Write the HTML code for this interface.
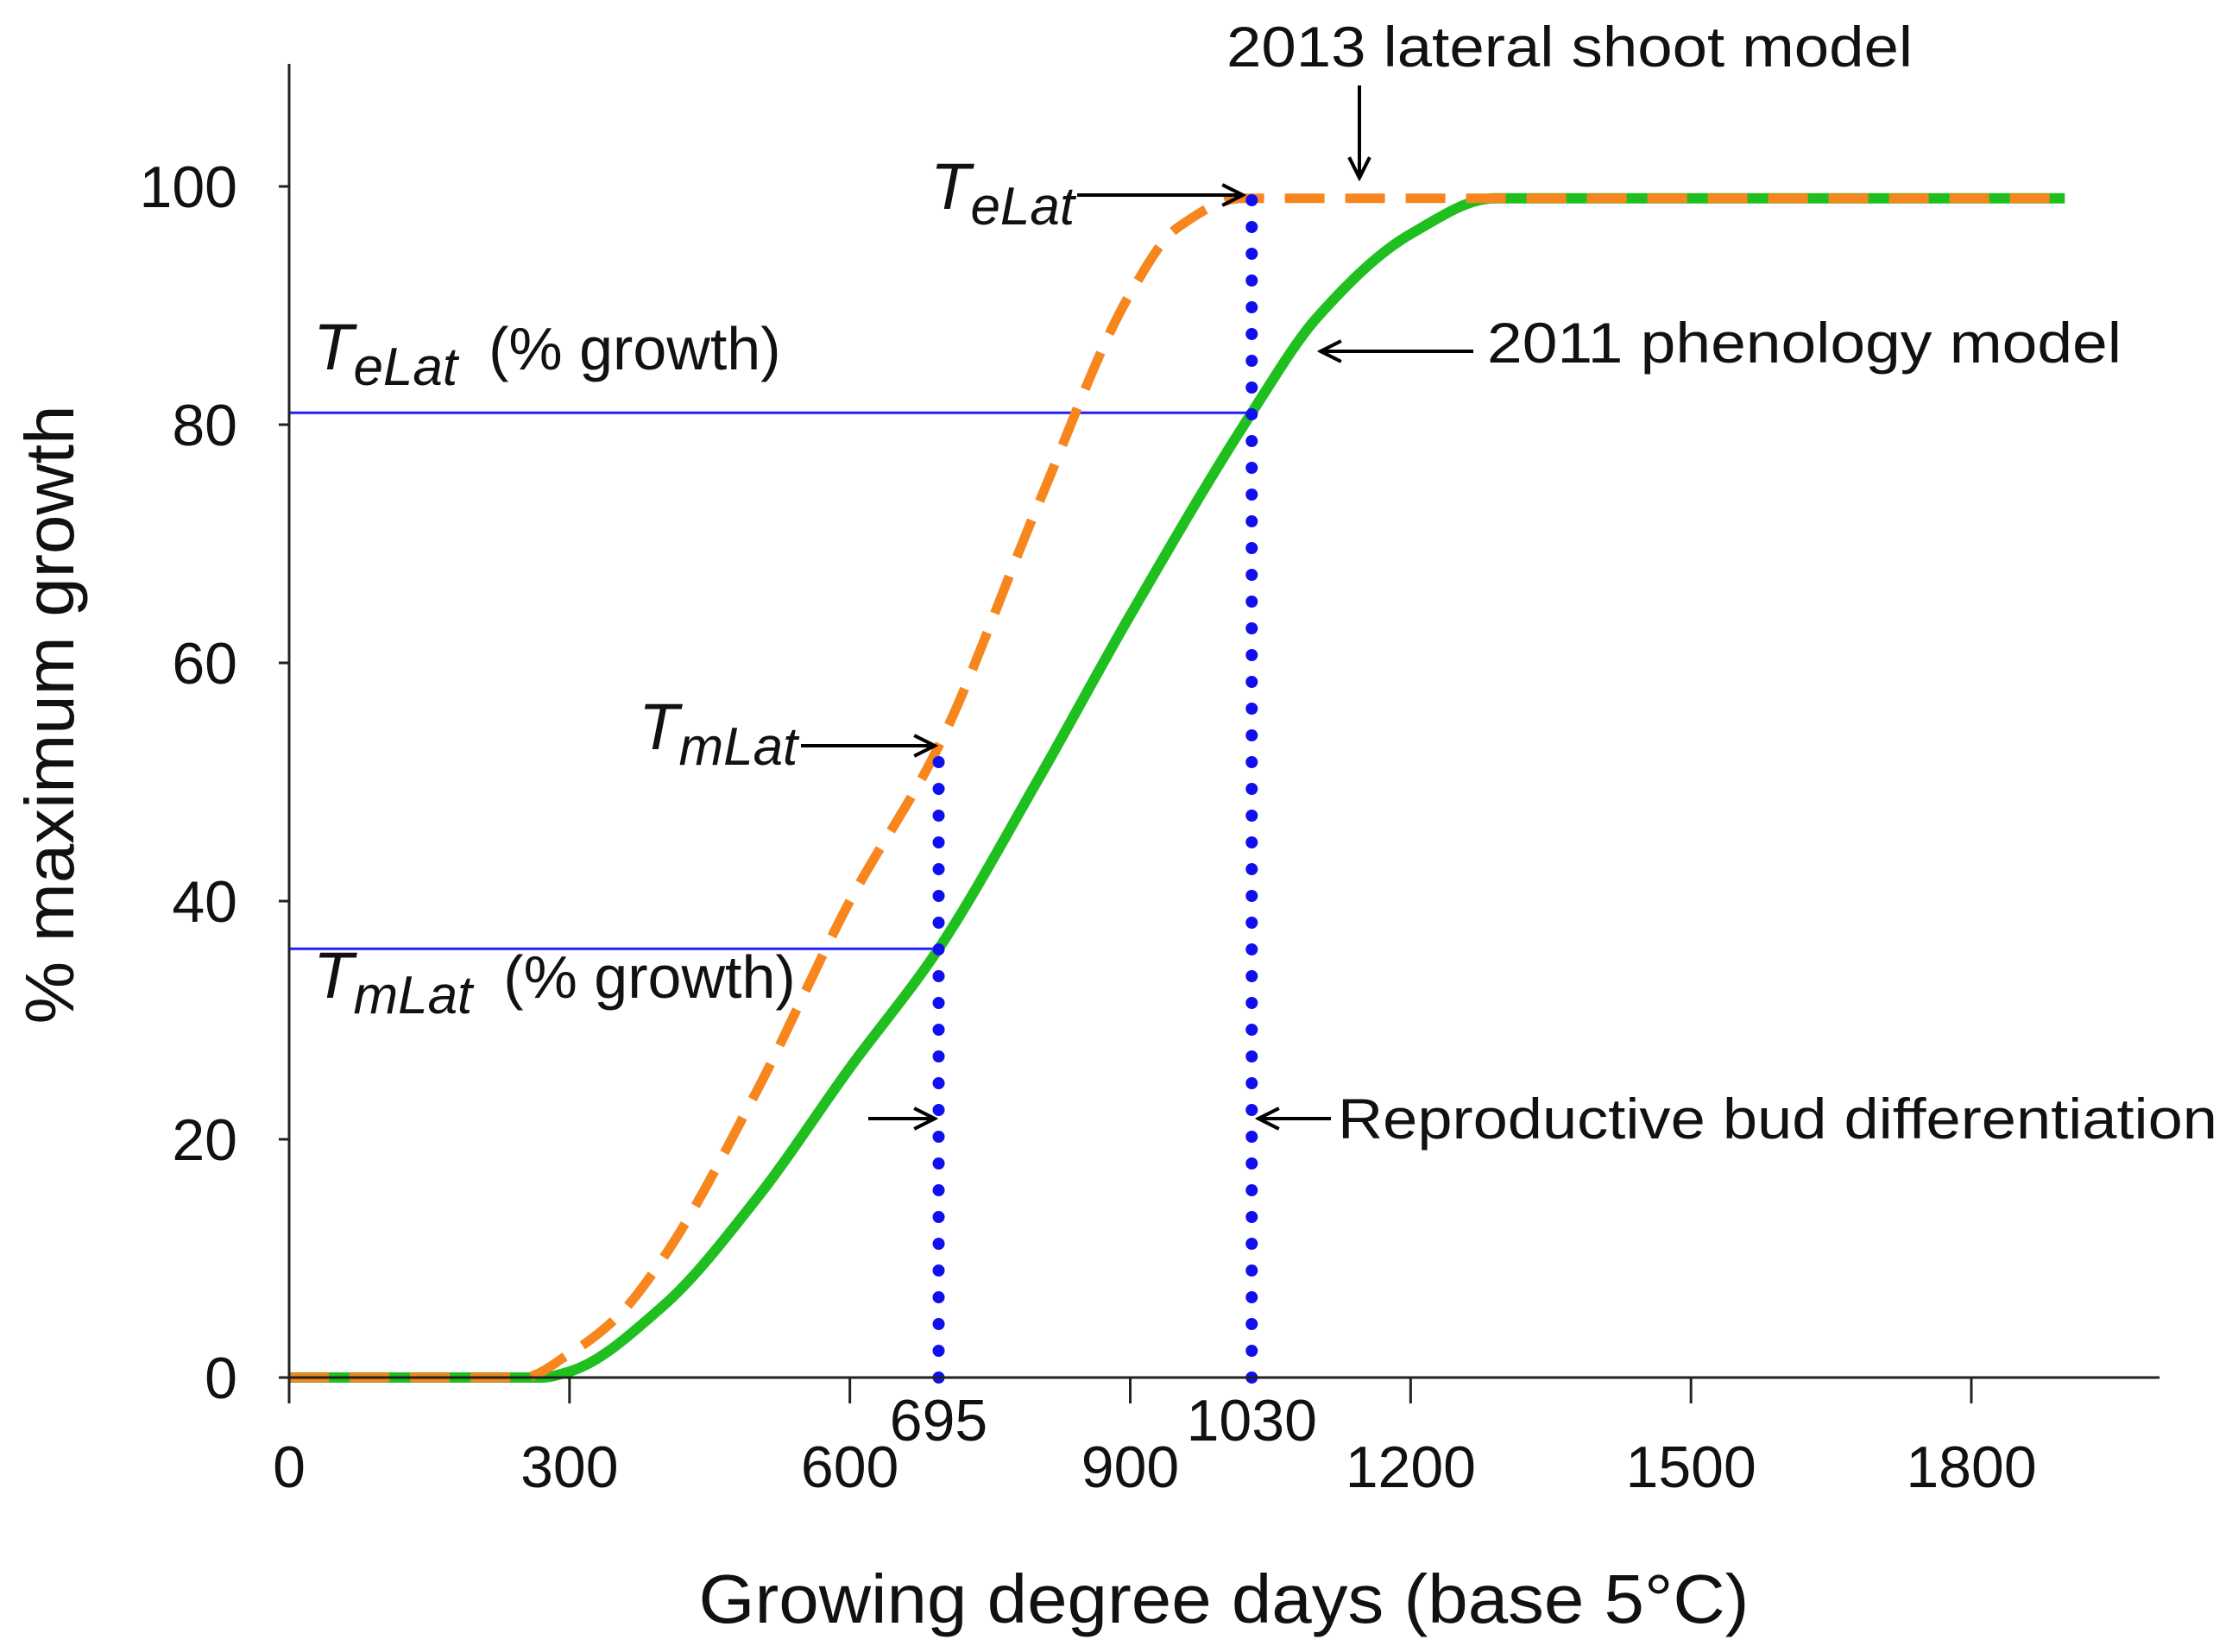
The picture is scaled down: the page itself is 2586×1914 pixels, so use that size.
<!DOCTYPE html>
<html><head><meta charset="utf-8"><style>
html,body{margin:0;padding:0;background:#fff;}
svg{display:block;font-family:"Liberation Sans",Arial,sans-serif;}
</style></head><body>
<svg id="chart" width="2586" height="1914" viewBox="0 0 2586 1914" xmlns="http://www.w3.org/2000/svg">
<defs>
<marker id="ah2" viewBox="0 0 20 20" refX="18" refY="10" markerWidth="34" markerHeight="34" markerUnits="userSpaceOnUse" orient="auto">
<path d="M4,3 L18,10 L4,17" fill="none" stroke="#000" stroke-width="2.4"/>
</marker>
</defs>
<g id="marks"></g>
<g id="axes"></g>
<g id="annot" font-size="66" fill="#111">
<text x="1421" y="77" textLength="795" lengthAdjust="spacingAndGlyphs">2013 lateral shoot model</text>
<line x1="1575" y1="99" x2="1575" y2="206" stroke="#000" stroke-width="4" marker-end="url(#ah2)"/>
<text x="1078" y="242" font-style="italic"><tspan font-size="76">T</tspan><tspan font-size="62" dy="18">eLat</tspan></text>
<line x1="1248" y1="226" x2="1440" y2="226" stroke="#000" stroke-width="4" marker-end="url(#ah2)"/>
<text x="363" y="428" font-size="70"><tspan font-style="italic" font-size="76">T</tspan><tspan font-style="italic" font-size="62" dy="18">eLat</tspan><tspan dy="-18" dx="36">(% growth)</tspan></text>
<text x="1723" y="420" textLength="735" lengthAdjust="spacingAndGlyphs">2011 phenology model</text>
<line x1="1707" y1="407" x2="1530" y2="407" stroke="#000" stroke-width="4" marker-end="url(#ah2)"/>
<text x="740" y="868" font-style="italic"><tspan font-size="76">T</tspan><tspan font-size="62" dy="18">mLat</tspan></text>
<line x1="928" y1="864" x2="1083" y2="864" stroke="#000" stroke-width="4" marker-end="url(#ah2)"/>
<text x="363" y="1156" font-size="70"><tspan font-style="italic" font-size="76">T</tspan><tspan font-style="italic" font-size="62" dy="18">mLat</tspan><tspan dy="-18" dx="36">(% growth)</tspan></text>
<line x1="1006" y1="1296" x2="1083" y2="1296" stroke="#000" stroke-width="4" marker-end="url(#ah2)"/>
<line x1="1542" y1="1296" x2="1458" y2="1296" stroke="#000" stroke-width="4" marker-end="url(#ah2)"/>
<text x="1550" y="1319" textLength="1019" lengthAdjust="spacingAndGlyphs">Reproductive bud differentiation</text>
</g>
</svg>
<script>
const xTicks = [0,300,600,900,1200,1500,1800];
const yTicks = [0,20,40,60,80,100];
const greenX = [0,270,300,400,500,600,695,800,900,1030,1100,1200,1290,1900];
const greenY = [0,0,0.5,6,15,26,36,50,64,81,89,96,99,99];
const orangeX = [0,250,300,350,400,500,600,695,800,900,950,1020,1900];
const orangeY = [0,0,2,5,10,24,40,53,73,91,96.5,99,99];
const markerX = [695,1030];
const markerTopY = [53,99];
const markerGrowthY = [36,81];

const X0=335, PXX=1949/1800, Y0=1596, PXY=1380/100;
const sx = v => X0 + v*PXX;
const sy = v => Y0 - v*PXY;
const NS='http://www.w3.org/2000/svg';
function mk(tag, attrs, parent){const e=document.createElementNS(NS,tag);for(const k in attrs)e.setAttribute(k,attrs[k]);parent.appendChild(e);return e;}
const marks=document.getElementById('marks'), axes=document.getElementById('axes');

// monotone cubic (Fritsch-Carlson)
function smoothPath(xs, ys){
  const n=xs.length, d=[], m=[];
  for(let i=0;i<n-1;i++) d.push((ys[i+1]-ys[i])/(xs[i+1]-xs[i]));
  m[0]=d[0]; m[n-1]=d[n-2];
  for(let i=1;i<n-1;i++){
    if(d[i-1]*d[i]<=0) m[i]=0;
    else m[i]=3*(xs[i+1]-xs[i-1])/((2*xs[i+1]-xs[i]-xs[i-1])/d[i-1]+(xs[i+1]+xs[i]-2*xs[i-1])/d[i]);
  }
  let p='M'+sx(xs[0])+','+sy(ys[0]);
  for(let i=0;i<n-1;i++){
    const h=xs[i+1]-xs[i];
    p+=' C'+sx(xs[i]+h/3)+','+sy(ys[i]+m[i]*h/3)+' '+sx(xs[i+1]-h/3)+','+sy(ys[i+1]-m[i+1]*h/3)+' '+sx(xs[i+1])+','+sy(ys[i+1]);
  }
  return p;
}
markerX.forEach((mx,i)=>{
  const l=mk('line',{x1:sx(0),y1:sy(markerGrowthY[i]),x2:sx(mx),y2:sy(markerGrowthY[i]),stroke:'#1f1fff','stroke-width':3},marks);
  
  
});
const g=mk('path',{d:smoothPath(greenX,greenY),fill:'none',stroke:'#1fbf1f','stroke-width':12,'stroke-linejoin':'round'},marks);


const o=mk('path',{d:smoothPath(orangeX,orangeY),fill:'none',stroke:'#f7861f','stroke-width':11,'stroke-dasharray':'46 24'},marks);


markerX.forEach((mx,i)=>{
  const l=mk('line',{x1:sx(mx),y1:sy(0),x2:sx(mx),y2:sy(markerTopY[i]),stroke:'#1010ee','stroke-width':14,'stroke-linecap':'round','stroke-dasharray':'0 31'},marks);
  
  
});
const xa=mk('line',{x1:X0,y1:Y0,x2:2502,y2:Y0,stroke:'#222','stroke-width':3},axes);


const ya=mk('line',{x1:X0,y1:74,x2:X0,y2:Y0+30,stroke:'#222','stroke-width':3},axes);


xTicks.forEach(t=>{
  const l=mk('line',{x1:sx(t),y1:Y0,x2:sx(t),y2:Y0+30,stroke:'#222','stroke-width':3},axes);
  
  
  const tx=mk('text',{x:sx(t),y:1723,'text-anchor':'middle','font-size':68,fill:'#111'},axes);
  tx.textContent=t;
  
  
});
markerX.forEach(mx=>{
  const tx=mk('text',{x:sx(mx),y:1669,'text-anchor':'middle','font-size':68,fill:'#111'},axes);
  tx.textContent=mx;
  
  
});
yTicks.forEach(t=>{
  const l=mk('line',{x1:X0-12,y1:sy(t),x2:X0,y2:sy(t),stroke:'#222','stroke-width':3},axes);
  
  
  const tx=mk('text',{x:275,y:sy(t)+24,'text-anchor':'end','font-size':68,fill:'#111'},axes);
  tx.textContent=t;
  
  
});
const xt=mk('text',{x:1418,y:1880,'text-anchor':'middle','font-size':80,fill:'#111',textLength:1217,lengthAdjust:'spacingAndGlyphs'},axes);
xt.textContent='Growing degree days (base 5°C)';


const yt=mk('text',{x:0,y:0,'text-anchor':'middle','font-size':80,fill:'#111',textLength:717,lengthAdjust:'spacingAndGlyphs',transform:'translate(85,828) rotate(-90)'},axes);
yt.textContent='% maximum growth';


</script>
</body></html>
